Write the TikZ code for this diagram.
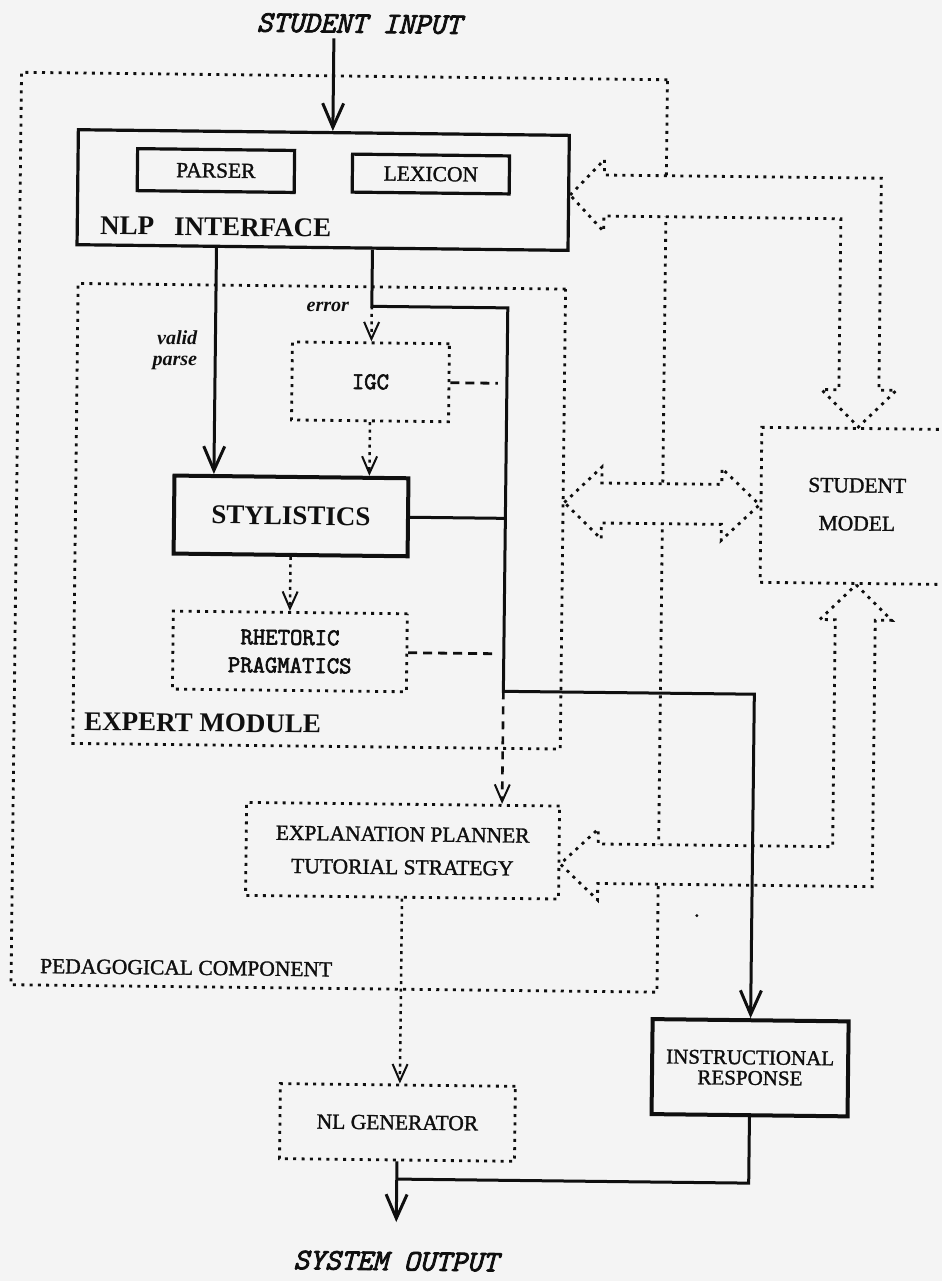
\documentclass[tikz,border=0pt]{standalone}
\usepackage{fontspec}
\setmainfont{Liberation Serif}
\newfontfamily\scanserif{Liberation Serif}[FakeBold=1.4]
\newfontfamily\scanmono{Latin Modern Mono}[FakeBold=2.6]
\usetikzlibrary{arrows.meta,calc}
\definecolor{paper}{RGB}{244,244,244}
\definecolor{ink}{RGB}{15,15,15}
\tikzset{
  solidbox/.style={draw=ink, line width=3.2pt, inner sep=0pt},
  heavybox/.style={draw=ink, line width=4pt, inner sep=0pt},
  dotbox/.style={draw=ink, line width=2.8pt, dash pattern=on 3pt off 5.3pt, inner sep=0pt},
  conn/.style={draw=ink, line width=3pt},
  bigarrow/.style={conn, -{Straight Barb[length=24pt,width=21pt,line width=3pt]}},
  dotconn/.style={draw=ink, line width=2.5pt, dash pattern=on 3pt off 4.5pt},
  dotarrow/.style={dotconn, -{Straight Barb[length=17pt,width=15pt,line width=2pt]}},
  dashconn/.style={draw=ink, line width=2.8pt, dash pattern=on 9pt off 6pt},
  dasharrow/.style={draw=ink, line width=2.6pt, dash pattern=on 8pt off 7pt, -{Straight Barb[length=17pt,width=15pt,line width=2pt]}},
  hollow/.style={draw=ink, line width=2.8pt, dash pattern=on 3pt off 5.3pt, fill=paper},
  txtreg/.style={font=\scanserif\fontsize{21.5}{28}\selectfont, inner sep=0pt, text=ink},
  txtbold/.style={font=\fontsize{27}{32}\selectfont\bfseries, inner sep=0pt, text=ink},
  txtmono/.style={font=\scanmono\fontsize{24}{28}\selectfont, inner sep=0pt, text=ink},
  txtmonoit/.style={font=\scanmono\itshape\fontsize{30}{32}\selectfont, inner sep=0pt, text=ink},
  txtlab/.style={font=\fontsize{20}{21}\selectfont\bfseries\itshape, inner sep=0pt, text=ink},
}
\begin{document}
\begin{tikzpicture}[x=1pt,y=-1pt]
\useasboundingbox (0,0) rectangle (942,1281);
\fill[paper] (0,0) rectangle (942,1281);
\begin{scope}
\clip (0,0) rectangle (942,1281);
\begin{scope}[rotate around={-0.66:(471,640)}, transform shape]

% ---------- boxes ----------
\node[dotbox, minimum width=646pt, minimum height=912.5pt] (ped) at (338,533.75) {};
\node[txtreg] (pedtxt) at (190,971) {PEDAGOGICAL COMPONENT};

\node[solidbox, minimum width=491pt, minimum height=115pt] (nlp) at (318,191.75) {};
\node[solidbox, txtreg, minimum width=157pt, minimum height=42pt] (parser) at (210.5,173.5) {PARSER};
\node[solidbox, txtreg, minimum width=157pt, minimum height=38pt] (lex) at (425.5,174.5) {LEXICON};
\node[txtbold] (nlptxt) at (211,230) {NLP\hspace{20pt}INTERFACE};

\node[dotbox, minimum width=487.5pt, minimum height=460pt] (exp) at (317.75,518) {};
\node[txtbold] (exptxt) at (203.5,726) {EXPERT MODULE};

\node[dotbox, txtmono, minimum width=157pt, minimum height=78pt] (igc) at (367.5,383) {IGC};
\node[heavybox, txtbold, minimum width=234pt, minimum height=78pt] (sty) at (289.6,518) {STYLISTICS};
\node[dotbox, txtmono, align=center, minimum width=234pt, minimum height=78pt] (rhet) at (290,653.5) {RHETORIC\\PRAGMATICS};

\node[dotbox, minimum width=260pt, minimum height=155pt, anchor=west] (sm) at (758,501.5) {};
\node[txtreg, align=center, font=\scanserif\fontsize{21.5}{38}\selectfont] (smtxt) at (855.5,500) {STUDENT\\MODEL};

\node[dotbox, txtreg, align=center, font=\scanserif\fontsize{21.5}{33}\selectfont, minimum width=313pt, minimum height=93pt] (ep) at (405,851.5) {EXPLANATION PLANNER\\TUTORIAL STRATEGY};
\node[dotbox, txtreg, minimum width=235pt, minimum height=75pt] (nlg) at (403,1123.3) {NL GENERATOR};
\node[heavybox, txtreg, align=center, font=\scanserif\fontsize{21}{20.5}\selectfont, minimum width=196pt, minimum height=95pt] (ir) at (755,1064.5) {INSTRUCTIONAL\\RESPONSE};

% ---------- free labels ----------
\node[txtmonoit] (sin) at (352,25) {STUDENT INPUT};
\node[txtmonoit] (sout) at (403,1262) {SYSTEM OUTPUT};
\node[txtlab] (errtxt) at (324,308.5) {error};
\node[txtlab, align=right, anchor=east] (vptxt) at (194,353.5) {valid\\parse};

% ---------- hollow (broad) arrows to/from the student model ----------
\coordinate (ta) at (nlp.east |- 0,194);
\coordinate (tb) at (856,0 |- sm.north);
\draw[hollow] (ta) -- (599,158) -- (599,173.5) -- (876,173.5) -- (876,385.5) -- (893.5,385.5)
  -- (tb) -- (818.5,385.5) -- (836,385.5) -- (836,214.5) -- (599,214.5) -- (599,230) -- cycle;

\coordinate (ma) at (exp.east |- sm.west);
\coordinate (mb) at (sm.west);
\draw[hollow] (ma) -- (600,465.5) -- (600,481.5) -- (720,481.5) -- (720,465.5) -- (mb)
  -- (720,537.5) -- (720,521.5) -- (600,521.5) -- (600,537.5) -- cycle;

\coordinate (ba) at (855.5,0 |- sm.south);
\coordinate (bb) at (ep.east |- 0,863);
\draw[hollow] (ba) -- (891.5,615.5) -- (875,615.5) -- (875,882) -- (600.5,882) -- (600.5,898.5)
  -- (bb) -- (600.5,827.5) -- (600.5,842.5) -- (835,842.5) -- (835,615.5) -- (819.5,615.5) -- cycle;

% ---------- connectors ----------
\coordinate (inTop) at (327,40);
\coordinate (vx) at (212,0);
\coordinate (ex) at (368,0);
\coordinate (errc) at (368,307.5);
\coordinate (cornerA) at (504,691);
\coordinate (dashEnd) at (495,0);
\coordinate (outY) at (0,1223);
\coordinate (joinY) at (0,1180);

\draw[bigarrow] (inTop) -- (inTop |- nlp.north);
\draw[bigarrow] (vx |- nlp.south) -- (vx |- sty.north);
\draw[bigarrow] (ex |- nlp.south) -- (errc) -| (cornerA) -| (ir.north);
\draw[conn] (sty.east) -- (sty.east -| cornerA);
\draw[dotarrow] (errc) -- (errc |- igc.north);
\draw[dotarrow] (igc.south) -- (igc.south |- sty.north);
\draw[dotarrow] (sty.south) -- (sty.south |- rhet.north);
\draw[dashconn] (igc.east) -- (igc.east -| dashEnd);
\draw[dashconn] (rhet.east) -- (rhet.east -| dashEnd);
\draw[dasharrow] (cornerA) -- (cornerA |- ep.north);
\draw[dotarrow] (ep.south) -- (ep.south |- nlg.north);
\draw[bigarrow] (nlg.south) -- (nlg.south |- outY);
\draw[conn] (ir.south) |- (nlg.south |- joinY);

\fill[ink] (700,913) circle (1.6pt);
\end{scope}
\end{scope}
\end{tikzpicture}
\end{document}
